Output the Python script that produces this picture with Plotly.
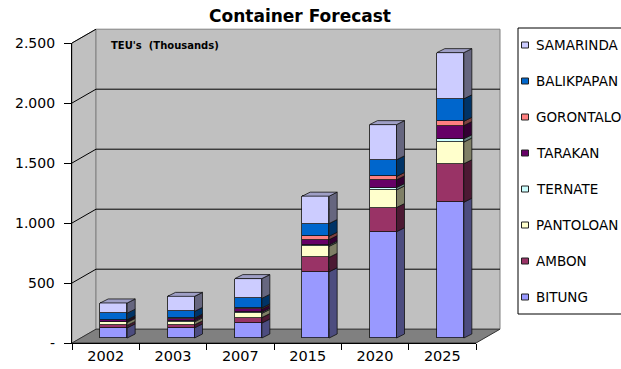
import plotly.graph_objects as go

# ---------------- data ----------------
years = ["2002", "2003", "2007", "2015", "2020", "2025"]
series_names = ["BITUNG", "AMBON", "PANTOLOAN", "TERNATE", "TARAKAN",
                "GORONTALO", "BALIKPAPAN", "SAMARINDA"]
bitung = [85, 85, 125, 552, 886, 1132]
ambon = [20, 25, 45, 120, 201, 320]
pantoloan = [25, 25, 35, 92, 147, 181]
ternate = [5, 8, 10, 11, 20, 28]
tarakan = [12, 17, 25, 45, 64, 109]
gorontalo = [5, 6, 10, 28, 28, 36]
balikpapan = [55, 56, 80, 106, 139, 187]
samarinda = [85, 125, 165, 228, 293, 385]
series_values = [bitung, ambon, pantoloan, ternate, tarakan,
                 gorontalo, balikpapan, samarinda]
front_colors = ["#9999FF", "#993366", "#FFFFCC", "#CCFFFF", "#660066",
                "#FF8080", "#0066CC", "#CCCCFF"]
y_tick_vals = [0, 500, 1000, 1500, 2000, 2500]
y_tick_text = ["-", "500", "1.000", "1.500", "2.000", "2.500"]
Y_MAX = 2500

FONT = "DejaVu Sans, Verdana, sans-serif"

# ---------------- geometry (pixels) ----------------
W, H = 621, 369
ML, MR, MT, MB = 72, 145, 43, 26
PW = W - ML - MR          # plot width
PH = H - MT - MB          # plot height
WALL_DX, WALL_DY = 24, 13.8      # depth of the walls
BAR_SHIFT_X, BAR_SHIFT_Y = 8, 5  # bar front plane relative to front axis
BAR_W_PX = 27
BAR_DX, BAR_DY = 8, 4            # bar depth

ncat = len(years)
cat_px = PW / ncat
u_per_px_y = Y_MAX / PH


def darken(hexc, f):
    h = hexc.lstrip("#")
    r, g, b = (int(h[i:i + 2], 16) for i in (0, 2, 4))
    return "#%02x%02x%02x" % (int(r * f), int(g * f), int(b * f))


def pxp(x):  # pixel x -> paper
    return (x - ML) / PW


def pyp(y):  # pixel y -> paper
    return (H - MB - y) / PH


def poly(points):
    return "M " + " L ".join(f"{pxp(x):.5f},{pyp(y):.5f}" for x, y in points) + " Z"


fig = go.Figure()

bar_width = BAR_W_PX / cat_px
bar_offset = (BAR_SHIFT_X - BAR_W_PX / 2) / cat_px

for name, vals, col in zip(series_names, series_values, front_colors):
    fig.add_trace(go.Bar(
        x=years, y=vals, name=name, showlegend=False,
        marker=dict(color=col, line=dict(color="#111111", width=0.8)),
        width=bar_width, offset=bar_offset,
        xaxis="x", yaxis="y2",
    ))

shapes = []
annotations = []
# ----- walls -----
x0f, x1f, ytf, ybf = ML, ML + PW, MT, H - MB
shapes.append(dict(type="path", xref="paper", yref="paper", layer="below",
                   path=poly([(x0f, ytf), (x0f + WALL_DX, ytf - WALL_DY),
                              (x0f + WALL_DX, ybf - WALL_DY), (x0f, ybf)]),
                   fillcolor="#C0C0C0", line=dict(color="#808080", width=1)))
shapes.append(dict(type="path", xref="paper", yref="paper", layer="below",
                   path=poly([(x0f + WALL_DX, ytf - WALL_DY), (x1f + WALL_DX, ytf - WALL_DY),
                              (x1f + WALL_DX, ybf - WALL_DY), (x0f + WALL_DX, ybf - WALL_DY)]),
                   fillcolor="#C0C0C0", line=dict(color="#808080", width=1)))
shapes.append(dict(type="path", xref="paper", yref="paper", layer="below",
                   path=poly([(x0f, ybf), (x0f + WALL_DX, ybf - WALL_DY),
                              (x1f + WALL_DX, ybf - WALL_DY), (x1f, ybf)]),
                   fillcolor="#808080", line=dict(color="#333333", width=1)))
for v in y_tick_vals[1:]:
    yf = ybf - v / u_per_px_y
    yb = yf - WALL_DY
    shapes.append(dict(type="line", xref="paper", yref="paper", layer="below",
                       x0=pxp(x0f), y0=pyp(yf), x1=pxp(x0f + WALL_DX), y1=pyp(yb),
                       line=dict(color="#000000", width=1)))
    if v < Y_MAX:
        shapes.append(dict(type="line", xref="paper", yref="paper", layer="below",
                           x0=pxp(x0f + WALL_DX), y0=pyp(yb), x1=pxp(x1f + WALL_DX), y1=pyp(yb),
                           line=dict(color="#000000", width=1)))

# ----- bar side & top faces (data coords) -----
dxu = BAR_DX / cat_px
dyu = BAR_DY * u_per_px_y
for i in range(ncat):
    xl = i + bar_offset
    xr = xl + bar_width
    base = 0.0
    for vals, col in zip(series_values, front_colors):
        y0, y1 = base, base + vals[i]
        base = y1
        path = (f"M {xr:.4f},{y0:.2f} L {xr + dxu:.4f},{y0 + dyu:.2f} "
                f"L {xr + dxu:.4f},{y1 + dyu:.2f} L {xr:.4f},{y1:.2f} Z")
        shapes.append(dict(type="path", xref="x", yref="y2", path=path,
                           fillcolor=darken(col, 0.5),
                           line=dict(color="#111111", width=0.8)))
    top = base
    path = (f"M {xl:.4f},{top:.2f} L {xl + dxu:.4f},{top + dyu:.2f} "
            f"L {xr + dxu:.4f},{top + dyu:.2f} L {xr:.4f},{top:.2f} Z")
    shapes.append(dict(type="path", xref="x", yref="y2", path=path,
                       fillcolor=darken(front_colors[-1], 0.78),
                       line=dict(color="#111111", width=0.8)))

# ----- y tick labels (front axis) -----
for v, t in zip(y_tick_vals, y_tick_text):
    annotations.append(dict(text=t, xref="paper", yref="y", x=pxp(56), y=v,
                            xanchor="right", yanchor="middle", showarrow=False,
                            borderpad=0,
                            font=dict(size=14, family=FONT, color="#000000")))

# ----- legend (drawn box, swatches and labels) -----
LEG_X0, LEG_Y0, LEG_Y1 = 518, 28, 314
LEG_ROW0, LEG_STEP = 45, 36
shapes.append(dict(type="rect", xref="paper", yref="paper",
                   x0=pxp(LEG_X0), x1=pxp(W + 20), y0=pyp(LEG_Y0), y1=pyp(LEG_Y1),
                   fillcolor="white", line=dict(color="#000000", width=1)))
for k, j in enumerate(reversed(range(len(series_names)))):
    yc = LEG_ROW0 + k * LEG_STEP
    shapes.append(dict(type="rect", xref="paper", yref="paper",
                       x0=pxp(521.5), x1=pxp(528.5), y0=pyp(yc + 3), y1=pyp(yc - 3),
                       fillcolor=front_colors[j], line=dict(color="#222222", width=1)))
    annotations.append(dict(text=series_names[j], xref="paper", yref="paper",
                            x=pxp(535), y=pyp(yc), xanchor="left", yanchor="middle",
                            showarrow=False, borderpad=0,
                            font=dict(size=13.5, family=FONT, color="#000000")))

annotations.append(dict(text="<b>TEU's  (Thousands)</b>", xref="paper", yref="paper",
                        x=pxp(110), y=pyp(45), xanchor="left", yanchor="middle",
                        showarrow=False, borderpad=0,
                        font=dict(size=10, family=FONT, color="#000000")))

shift_u = BAR_SHIFT_Y * u_per_px_y

fig.update_layout(
    width=W, height=H,
    margin=dict(l=ML, r=MR, t=MT, b=MB, autoexpand=False),
    paper_bgcolor="white", plot_bgcolor="rgba(0,0,0,0)",
    font=dict(family=FONT, color="#000000"),
    barmode="stack", bargap=0, hovermode=False, showlegend=False,
    title=dict(text="<b>Container Forecast</b>", x=300 / W, xref="container",
               xanchor="center", y=1 - 16.5 / H, yref="container", yanchor="middle",
               font=dict(size=17, family=FONT, color="#000000")),
    xaxis=dict(type="category", categoryorder="array", categoryarray=years,
               range=[-0.5, ncat - 0.5], tickson="boundaries",
               ticks="outside", ticklen=6, tickcolor="#000000",
               showline=True, linecolor="#000000", linewidth=1,
               showgrid=False, zeroline=False, fixedrange=True,
               tickfont=dict(size=14.5, family=FONT, color="#000000")),
    yaxis=dict(range=[0, Y_MAX], tickvals=y_tick_vals, ticktext=[""] * len(y_tick_vals),
               ticks="outside", ticklen=7, tickcolor="#000000",
               showline=True, linecolor="#000000", linewidth=1,
               showgrid=False, zeroline=False, fixedrange=True),
    yaxis2=dict(overlaying="y", range=[-shift_u, Y_MAX - shift_u],
                visible=False, showgrid=False, zeroline=False, fixedrange=True),
    shapes=shapes,
    annotations=annotations,
)

fig.write_html("out.html")
